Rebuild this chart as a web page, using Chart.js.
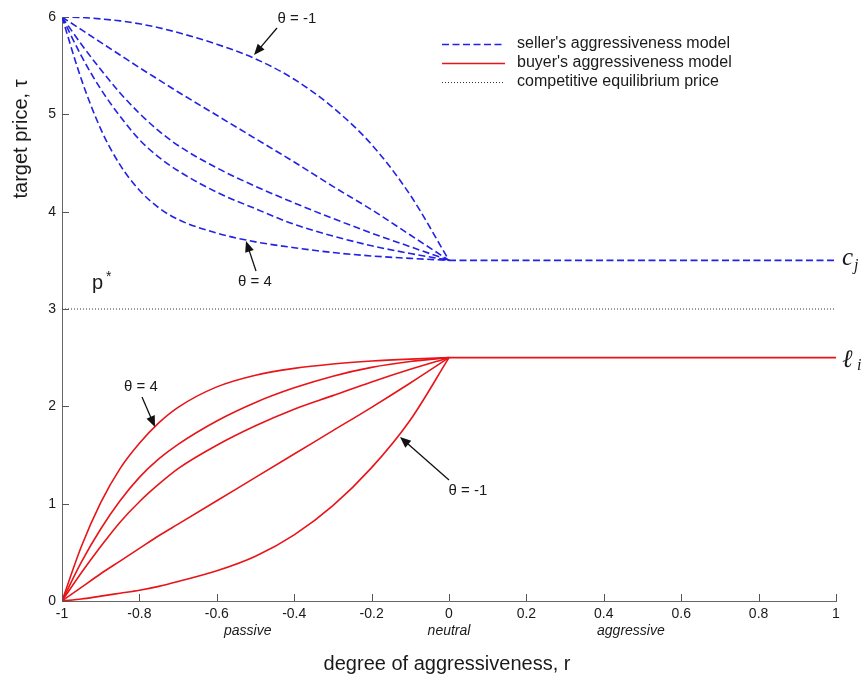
<!DOCTYPE html>
<html><head><meta charset="utf-8">
<script src="https://cdn.jsdelivr.net/npm/chart.js@4.4.0/dist/chart.umd.min.js"></script>
<style>html,body{margin:0;padding:0;background:#fff;}canvas{display:block;}</style>
</head><body>
<canvas id="c" width="864" height="679"></canvas>
<script>
// ---- data ----
const r = [-1, -0.95, -0.9, -0.85, -0.8, -0.75, -0.7, -0.6, -0.5, -0.4, -0.3, -0.2, -0.1, 0];
const sellerThetaM1 = [6, 5.995, 5.98, 5.96, 5.93, 5.89, 5.84, 5.72, 5.57, 5.36, 5.07, 4.69, 4.17, 3.5];
const sellerTheta0  = [6, 5.87, 5.74, 5.61, 5.48, 5.355, 5.23, 4.99, 4.75, 4.51, 4.26, 4.02, 3.76, 3.5];
const sellerTheta1  = [6, 5.72, 5.46, 5.22, 5.01, 4.83, 4.68, 4.45, 4.26, 4.09, 3.93, 3.78, 3.64, 3.5];
const sellerTheta2  = [6, 5.6, 5.26, 4.98, 4.74, 4.56, 4.42, 4.2, 4.03, 3.87, 3.75, 3.65, 3.57, 3.5];
const sellerTheta4  = [6, 5.36, 4.85, 4.48, 4.22, 4.04, 3.92, 3.78, 3.69, 3.63, 3.58, 3.545, 3.52, 3.5];
const buyerThetaM1  = [0, 0.02, 0.05, 0.08, 0.11, 0.15, 0.2, 0.31, 0.46, 0.68, 0.98, 1.37, 1.86, 2.5];
const buyerTheta0   = [0, 0.14, 0.28, 0.41, 0.54, 0.67, 0.79, 1.03, 1.27, 1.51, 1.75, 1.99, 2.24, 2.5];
const buyerTheta1   = [0, 0.29, 0.56, 0.81, 1.02, 1.2, 1.36, 1.6, 1.8, 1.97, 2.11, 2.25, 2.38, 2.5];
const buyerTheta2   = [0, 0.4, 0.74, 1.03, 1.27, 1.46, 1.61, 1.85, 2.04, 2.19, 2.31, 2.4, 2.46, 2.5];
const buyerTheta4   = [0, 0.56, 1.01, 1.36, 1.62, 1.83, 1.99, 2.2, 2.32, 2.39, 2.435, 2.465, 2.485, 2.5];
const flatR = [0, 1];
const sellerReserve = [3.5, 3.5];
const buyerLimit = [2.5, 2.5];
const eqR = [-1, 1];
const eqPrice = [3, 3];
const xTicks = [-1, -0.8, -0.6, -0.4, -0.2, 0, 0.2, 0.4, 0.6, 0.8, 1];
const xTickLabels = ['-1', '-0.8', '-0.6', '-0.4', '-0.2', '0', '0.2', '0.4', '0.6', '0.8', '1'];
const yTicks = [0, 1, 2, 3, 4, 5, 6];
const yTickLabels = ['0', '1', '2', '3', '4', '5', '6'];
const legendLabels = ["seller's aggressiveness model", "buyer's aggressiveness model", "competitive equilibrium price"];
const regionLabels = ['passive', 'neutral', 'aggressive'];
const regionAt = [-0.52, 0, 0.47];
const xTitle = 'degree of aggressiveness, r';
const yTitle = 'target price, \u03C4';

// ---- styling ----
const BLUE = 'rgb(34,34,230)';
const RED = 'rgb(232,20,24)';
const DASH = [7, 3.5];
const FONT = "'Liberation Sans', Arial, sans-serif";

function pts(xs, ys) { return xs.map((x, i) => ({x: x, y: ys[i]})); }
function curve(label, ys, color, dash) {
  return {label, data: pts(r, ys), borderColor: color, borderWidth: 1.6, borderDash: dash,
    pointRadius: 0, fill: false, cubicInterpolationMode: 'monotone'};
}
const datasets = [
  curve('seller θ=-1', sellerThetaM1, BLUE, DASH),
  curve('seller θ=0', sellerTheta0, BLUE, DASH),
  curve('seller θ=1', sellerTheta1, BLUE, DASH),
  curve('seller θ=2', sellerTheta2, BLUE, DASH),
  curve('seller θ=4', sellerTheta4, BLUE, DASH),
  {label: 'seller flat', data: pts(flatR, sellerReserve), borderColor: BLUE, borderWidth: 1.6, borderDash: DASH, pointRadius: 0},
  curve('buyer θ=-1', buyerThetaM1, RED, []),
  curve('buyer θ=0', buyerTheta0, RED, []),
  curve('buyer θ=1', buyerTheta1, RED, []),
  curve('buyer θ=2', buyerTheta2, RED, []),
  curve('buyer θ=4', buyerTheta4, RED, []),
  {label: 'buyer flat', data: pts(flatR, buyerLimit), borderColor: RED, borderWidth: 1.6, pointRadius: 0},
  {label: 'equilibrium', data: pts(eqR, eqPrice), borderColor: '#333', borderWidth: 1, borderDash: [1, 2], pointRadius: 0}
];

function arrow(ctx, x1, y1, x2, y2) {
  const a = Math.atan2(y2 - y1, x2 - x1), L = 11, W = 4.5;
  ctx.beginPath(); ctx.moveTo(x1, y1); ctx.lineTo(x2 - Math.cos(a) * L * 0.8, y2 - Math.sin(a) * L * 0.8); ctx.stroke();
  ctx.beginPath(); ctx.moveTo(x2, y2);
  ctx.lineTo(x2 - Math.cos(a) * L - Math.sin(a) * W, y2 - Math.sin(a) * L + Math.cos(a) * W);
  ctx.lineTo(x2 - Math.cos(a) * L + Math.sin(a) * W, y2 - Math.sin(a) * L - Math.cos(a) * W);
  ctx.closePath(); ctx.fill();
}

const decor = {
  id: 'decor',
  afterDraw(chart) {
    const ctx = chart.ctx, xs = chart.scales.x, ys = chart.scales.y;
    const X = v => xs.getPixelForValue(v), Y = v => ys.getPixelForValue(v);
    ctx.save();
    // inward tick marks
    ctx.strokeStyle = '#555'; ctx.lineWidth = 1; ctx.setLineDash([]);
    xTicks.forEach(t => { const p = Math.round(X(t)) + 0.5; ctx.beginPath(); ctx.moveTo(p, Y(0)); ctx.lineTo(p, Y(0) - 7); ctx.stroke(); });
    yTicks.forEach(t => { const p = Math.round(Y(t)) + 0.5; ctx.beginPath(); ctx.moveTo(X(-1), p); ctx.lineTo(X(-1) + 7, p); ctx.stroke(); });

    ctx.fillStyle = '#1a1a1a';
    // axis titles
    ctx.font = '20px ' + FONT; ctx.textAlign = 'center'; ctx.textBaseline = 'middle';
    ctx.fillText(xTitle, 447, 664);
    ctx.save(); ctx.translate(21, 139); ctx.rotate(-Math.PI / 2); ctx.fillText(yTitle, 0, 0); ctx.restore();
    // region labels
    ctx.font = 'italic 14px ' + FONT;
    regionLabels.forEach((s, i) => ctx.fillText(s, X(regionAt[i]), 631));

    // legend
    const lx0 = 442, lx1 = 505, rows = [44, 63, 82];
    const styles = [[BLUE, DASH, 1.6], [RED, [], 1.6], ['#333', [1, 2], 1]];
    rows.forEach((y, i) => {
      ctx.strokeStyle = styles[i][0]; ctx.setLineDash(styles[i][1]); ctx.lineWidth = styles[i][2];
      ctx.beginPath(); ctx.moveTo(lx0, y + 0.5); ctx.lineTo(lx1, y + 0.5); ctx.stroke();
    });
    ctx.setLineDash([]);
    ctx.font = '16px ' + FONT; ctx.textAlign = 'left'; ctx.textBaseline = 'middle';
    legendLabels.forEach((s, i) => ctx.fillText(s, 517, rows[i]));

    // p*
    ctx.font = '20px ' + FONT; ctx.textBaseline = 'alphabetic';
    ctx.fillText('p', 92, 289);
    ctx.font = '14px ' + FONT; ctx.fillText('*', 106, 281);

    // right-side math labels
    ctx.font = 'italic 25px "Liberation Serif", serif';
    ctx.fillText('c', 842, Y(3.5) + 5);
    ctx.font = 'italic 16px "Liberation Serif", serif';
    ctx.fillText('j', 854, Y(3.5) + 10);
    ctx.font = 'italic 25px "DejaVu Serif", serif';
    ctx.fillText('\u2113', 842, Y(2.5) + 9);
    ctx.font = 'italic 16px "Liberation Serif", serif';
    ctx.fillText('i', 857, Y(2.5) + 12);

    // theta annotations
    ctx.font = '15px ' + FONT; ctx.textAlign = 'center'; ctx.textBaseline = 'middle';
    ctx.fillText('\u03B8 = -1', 297, 19);
    ctx.fillText('\u03B8 = 4', 255, 282);
    ctx.fillText('\u03B8 = 4', 141, 387);
    ctx.fillText('\u03B8 = -1', 468, 491);
    ctx.strokeStyle = '#111'; ctx.fillStyle = '#111'; ctx.lineWidth = 1.3;
    arrow(ctx, 277, 28, 254, 55);
    arrow(ctx, 256, 271, 246, 241);
    arrow(ctx, 142, 397, 155, 427);
    arrow(ctx, 449, 480, 400, 437);
    ctx.restore();
  }
};

new Chart(document.getElementById('c'), {
  type: 'line',
  data: {datasets},
  options: {
    responsive: false, animation: false, devicePixelRatio: 1,
    layout: {padding: {top: 17, right: 28, left: 0, bottom: 0}},
    plugins: {legend: {display: false}, tooltip: {enabled: false}},
    elements: {line: {tension: 0}},
    scales: {
      x: {
        type: 'linear', min: -1, max: 1,
        grid: {display: false, drawTicks: false},
        border: {display: true, color: '#666', width: 1},
        afterBuildTicks: s => { s.ticks = xTicks.map(v => ({value: v})); },
        afterFit: s => { s.height = 78; },
        ticks: {padding: 5, color: '#1a1a1a', font: {family: FONT, size: 14}, maxRotation: 0, autoSkip: false,
          callback: (v) => { const i = xTicks.indexOf(v); return i >= 0 ? xTickLabels[i] : ''; }}
      },
      y: {
        type: 'linear', min: 0, max: 6,
        grid: {display: false, drawTicks: false},
        border: {display: true, color: '#666', width: 1},
        afterBuildTicks: s => { s.ticks = yTicks.map(v => ({value: v})); },
        afterFit: s => { s.width = 62; },
        ticks: {padding: 6, color: '#1a1a1a', font: {family: FONT, size: 14},
          callback: (v) => { const i = yTicks.indexOf(v); return i >= 0 ? yTickLabels[i] : ''; }}
      }
    }
  },
  plugins: [decor]
});
</script>
</body></html>
